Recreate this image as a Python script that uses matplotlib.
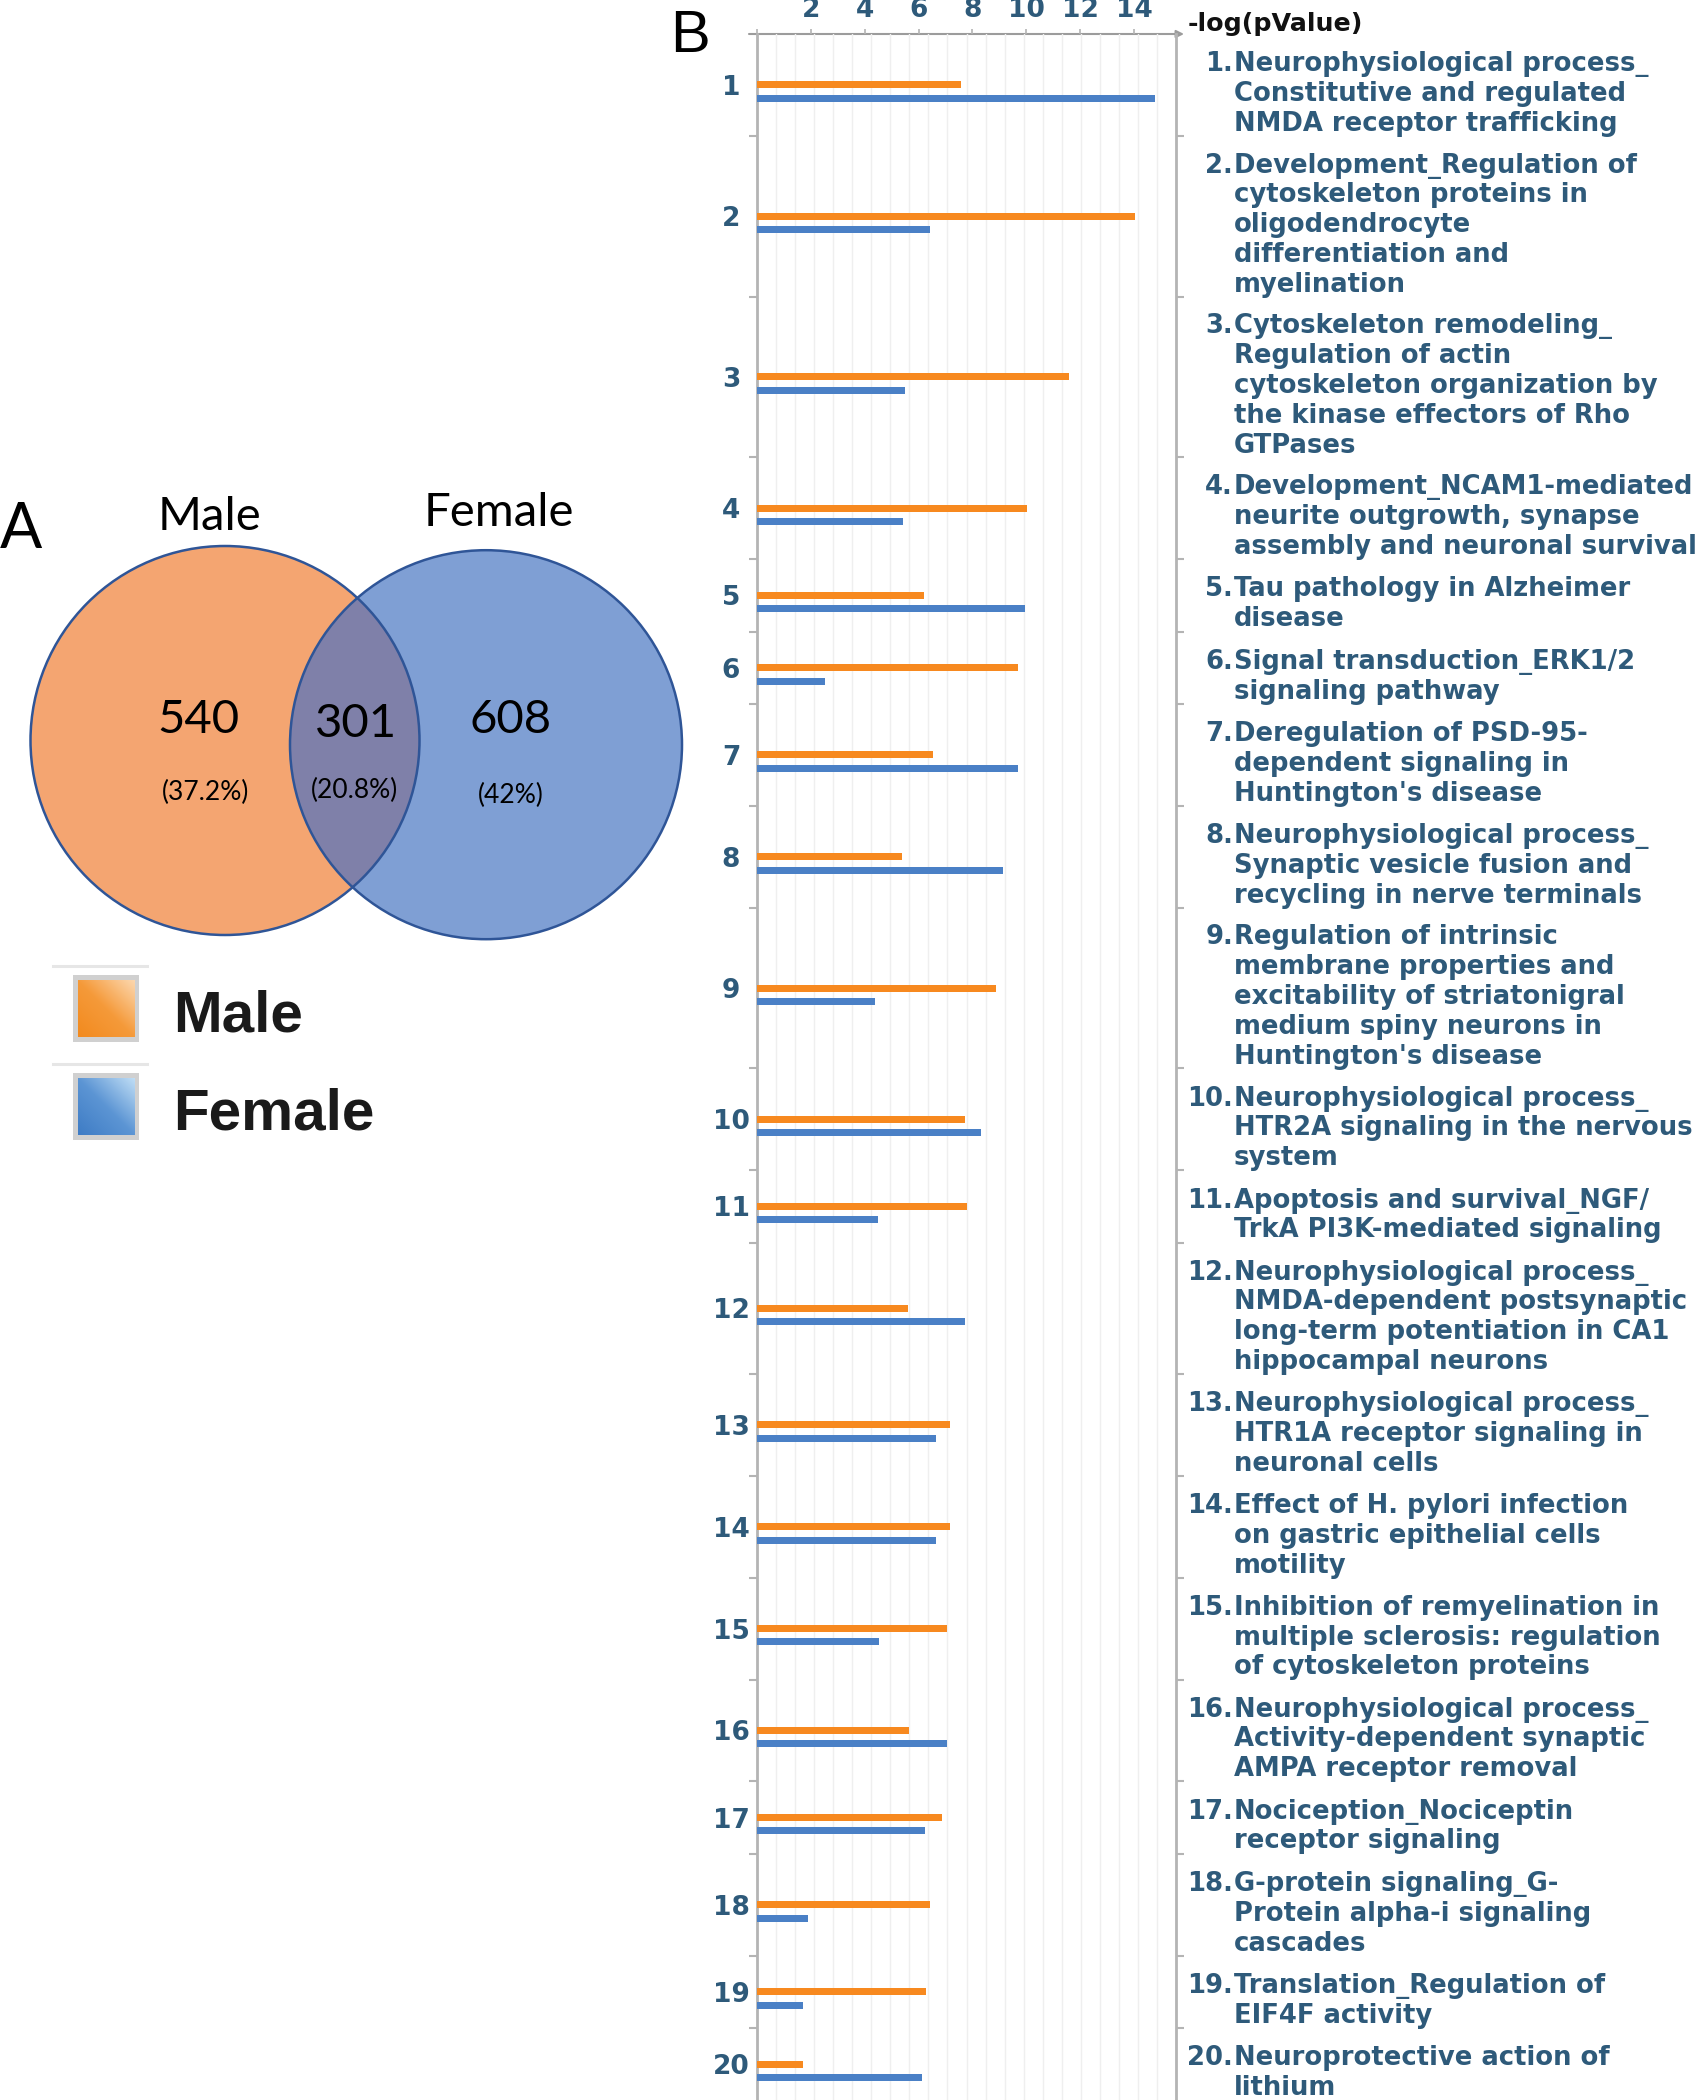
import numpy as np
import matplotlib
matplotlib.use('Agg')
import matplotlib.pyplot as plt
from matplotlib.patches import Ellipse, Rectangle
from matplotlib.colors import LinearSegmentedColormap
from matplotlib.transforms import blended_transform_factory

# ---- data ----
pathways = [
    "Neurophysiological process_\nConstitutive and regulated\nNMDA receptor trafficking",
    "Development_Regulation of\ncytoskeleton proteins in\noligodendrocyte\ndifferentiation and\nmyelination",
    "Cytoskeleton remodeling_\nRegulation of actin\ncytoskeleton organization by\nthe kinase effectors of Rho\nGTPases",
    "Development_NCAM1-mediated\nneurite outgrowth, synapse\nassembly and neuronal survival",
    "Tau pathology in Alzheimer\ndisease",
    "Signal transduction_ERK1/2\nsignaling pathway",
    "Deregulation of PSD-95-\ndependent signaling in\nHuntington's disease",
    "Neurophysiological process_\nSynaptic vesicle fusion and\nrecycling in nerve terminals",
    "Regulation of intrinsic\nmembrane properties and\nexcitability of striatonigral\nmedium spiny neurons in\nHuntington's disease",
    "Neurophysiological process_\nHTR2A signaling in the nervous\nsystem",
    "Apoptosis and survival_NGF/\nTrkA PI3K-mediated signaling",
    "Neurophysiological process_\nNMDA-dependent postsynaptic\nlong-term potentiation in CA1\nhippocampal neurons",
    "Neurophysiological process_\nHTR1A receptor signaling in\nneuronal cells",
    "Effect of H. pylori infection\non gastric epithelial cells\nmotility",
    "Inhibition of remyelination in\nmultiple sclerosis: regulation\nof cytoskeleton proteins",
    "Neurophysiological process_\nActivity-dependent synaptic\nAMPA receptor removal",
    "Nociception_Nociceptin\nreceptor signaling",
    "G-protein signaling_G-\nProtein alpha-i signaling\ncascades",
    "Translation_Regulation of\nEIF4F activity",
    "Neuroprotective action of\nlithium",
]
male = [7.57, 14.03, 11.60, 10.01, 6.19, 9.71, 6.55, 5.39, 8.88, 7.74,
        7.78, 5.61, 7.16, 7.16, 7.06, 5.64, 6.87, 6.42, 6.26, 1.69]
female = [14.79, 6.42, 5.50, 5.43, 9.97, 2.51, 9.71, 9.13, 4.40, 8.30,
          4.51, 7.74, 6.65, 6.65, 4.52, 7.04, 6.25, 1.88, 1.71, 6.13]
x_ticks = [0, 2, 4, 6, 8, 10, 12, 14]
x_label = "-log(pValue)"

venn_sets = ["Male", "Female"]
venn_counts = [540, 301, 608]
venn_pct = ["(37.2%)", "(20.8%)", "(42%)"]

ORANGE = "#F7891F"
BLUE = "#4A80C6"
TXT = "#2E5A7A"
GREY = "#b4b4b4"

W, H = 1695, 2100
fig = plt.figure(figsize=(W / 100, H / 100), dpi=100)

# pixel-space overlay for panel A and free text
bg = fig.add_axes([0, 0, 1, 1])
bg.axis('off')

# ---- panel A: venn ----
left = Ellipse((225, 740.5), 389, 389, fc="#F4A571", ec='none')
right = Ellipse((486, 744.7), 392, 389, fc="#7F9FD4", ec='none')
bg.add_patch(left)
bg.add_patch(right)
inter = Ellipse((225, 740.5), 389, 389, fc="#7F80A9", ec='none')
bg.add_patch(inter)
inter.set_clip_path(right)
for e in [Ellipse((225, 740.5), 389, 389), Ellipse((486, 744.7), 392, 389)]:
    e.set_fill(False)
    e.set_edgecolor("#2F5597")
    e.set_linewidth(1.8)
    bg.add_patch(e)

bg.text(21, 525, "A", fontsize=45, family="Lato", ha='center', va='center_baseline')
bg.text(210, 513, venn_sets[0], fontsize=34, family="Lato", ha='center', va='center_baseline')
bg.text(499, 509, venn_sets[1], fontsize=34, family="Lato", ha='center', va='center_baseline')
count_pos = [(198, 716), (356, 720), (511, 716)]
pct_pos = [(206, 792), (354, 790), (511, 795)]
for (cx, cy), (px, py), n, p in zip(count_pos, pct_pos, venn_counts, venn_pct):
    bg.text(cx, cy, str(n), fontsize=34, family="Lato", ha='center', va='center_baseline')
    bg.text(px, py, p, fontsize=19, family="Lato", ha='center', va='center')

# legend swatches
grad = np.linspace(0, 1, 64)
gx, gy = np.meshgrid(grad, grad)
g = (gx + gy) / 2
cmaps = [LinearSegmentedColormap.from_list('o', ["#F28A1E", "#F59A3A", "#FCD7AE"]),
         LinearSegmentedColormap.from_list('b', ["#3E7CC5", "#5C95D4", "#BFDDF5"])]
for k, (name, y0) in enumerate(zip(venn_sets, [975, 1073])):
    bg.plot([53, 147], [y0 - 9, y0 - 9], color="#e6e6e6", lw=2.2)
    bg.add_patch(Rectangle((73, y0), 66, 67, fc="#d0d0d0", ec='none', zorder=1))
    bg.imshow(g, cmap=cmaps[k], extent=[78, 135, y0 + 62, y0 + 5], aspect='auto',
              origin='lower', zorder=2)
    bg.text(173, y0 + 36, name, fontsize=42, family="Liberation Sans",
            weight='bold', color="#1a1a1a", va='center_baseline')
bg.set_xlim(0, W)
bg.set_ylim(H, 0)

# ---- panel B: bars ----
LINE = 29.45
TOP = 34
nlines = np.array([len(s.split("\n")) for s in pathways])
heights = nlines + 13.5 / LINE
tops = np.concatenate([[0], np.cumsum(heights)[:-1]])
centers = tops + heights / 2
XMAX = 15.56

ax = fig.add_axes([757 / W, 0, (1176 - 757) / W, (H - TOP) / H])
ax.set_xlim(0, XMAX)
ax.set_ylim((H - TOP) / LINE, 0)
ax.barh(centers, male, height=7 / LINE, color=ORANGE, zorder=3)
ax.barh(centers + 13.3 / LINE, female, height=7 / LINE, color=BLUE, zorder=3)
ax.patch.set_alpha(0)

for s in ['top', 'bottom']:
    ax.spines[s].set_visible(False)
for s in ['left', 'right']:
    ax.spines[s].set_color(GREY)
    ax.spines[s].set_linewidth(2)

ax.xaxis.tick_top()
ax.set_xticks(x_ticks)
ax.set_xticklabels([''] + [str(t) for t in x_ticks[1:]])
ax.set_xticks(np.linspace(0, XMAX, 23), minor=True)
ax.grid(axis='x', which='minor', color="#efefef", lw=1, zorder=0)
ax.tick_params(axis='x', which='major', length=3.6, width=1.2, color=GREY,
               labelsize=19, labelcolor=TXT, pad=4)
for lbl in ax.get_xticklabels():
    lbl.set_fontweight('bold')
ax.tick_params(axis='x', which='minor', length=0)

ax.set_yticks(centers)
ax.set_yticklabels([str(i + 1) for i in range(len(pathways))])
ax.set_yticks(tops[1:], minor=True)
ax.tick_params(axis='y', which='major', length=0, pad=18.7, labelsize=19, labelcolor=TXT)
ax.tick_params(axis='y', which='minor', length=5.8, width=1.5, color=GREY,
               left=True, right=True)
for lbl in ax.get_yticklabels():
    lbl.set_fontweight('bold')
    lbl.set_ha('center')

bg.annotate('', xy=(1184, TOP), xytext=(749, TOP),
            arrowprops=dict(arrowstyle='-|>', color="#9c9c9c", lw=1.5,
                            mutation_scale=11, shrinkA=0, shrinkB=0))
bg.text(1188, 22, x_label, fontsize=18.3, weight='bold', color="#111111",
        va='center_baseline', ha='left')
bg.text(690, 30, "B", fontsize=43, family="Liberation Sans", ha='center', va='center_baseline')

# pathway labels
tr = blended_transform_factory(bg.transData, ax.transData)
for i, s in enumerate(pathways):
    rows = s.split("\n")
    n = len(rows)
    for k, row in enumerate(rows):
        y = centers[i] + (6 + (k - (n - 1) / 2) * 29.8) / LINE
        bg.text(1234, y, row, transform=tr, fontsize=18.6, weight='bold',
                color=TXT, ha='left', va='center_baseline', clip_on=False)
        if k == 0:
            bg.text(1233, y, f"{i + 1}.", transform=tr, fontsize=18.6, weight='bold',
                    color=TXT, ha='right', va='center_baseline', clip_on=False)

fig.savefig("out.png", dpi=100)
